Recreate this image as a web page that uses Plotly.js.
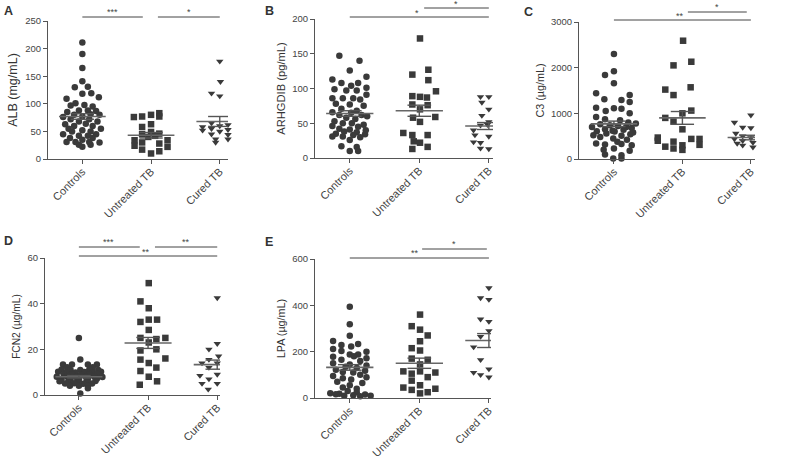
<!DOCTYPE html>
<html><head><meta charset="utf-8">
<script src="https://cdn.plot.ly/plotly-3.0.1.min.js"></script>
<style>html,body{margin:0;padding:0;background:#fff}#chart{width:787px;height:459px}</style>
</head><body><div id="chart"></div>
<script>
const categories = ["Controls", "Untreated TB", "Cured TB"];

// ---- Panel A: ALB (mg/mL) ----
const alb_ctrl    = [211,190,165,141,130,131,118,119,112,109,101,97,98,95,88,88,87,85,80,81,80,76,77,72,72,68,68,63,64,60,60,55,55,52,50,50,45,45,42,42,38,38,35,31,31,31,30,26,26,22];
const alb_ctrl_dx = [0,0,0,0,-0.11,0.08,0,0.13,0.24,-0.23,-0.1,-0.17,0.03,0.15,-0.05,0.08,0.2,-0.22,-0.12,0.12,0.25,-0.28,0,-0.17,0.1,-0.05,0.22,-0.25,0.05,-0.12,0.15,0.27,-0.2,0,-0.15,0.12,-0.28,0.2,-0.05,0.08,-0.18,0.15,0,-0.23,-0.1,0.1,0.25,-0.05,0.12,0];
const alb_untr    = [83,77,80,77,76,63,58,49,46,45,42,40,34,34,30,28,22,24,17,14,10];
const alb_untr_dx = [0.12,0.12,0,-0.13,-0.25,0,-0.13,0,0.12,-0.13,0.06,-0.04,-0.24,0.24,-0.13,0.12,0.24,-0.24,-0.13,0.12,0];
const alb_cure    = [177,140,119,114,65,62,60,58,57,55,53,52,50,47,45,44,43,36,36,30];
const alb_cure_dx = [0,0.01,-0.12,0,-0.12,0.12,0,-0.25,0.25,-0.12,0.12,-0.25,0,0.25,-0.12,0.12,0.25,-0.06,0.12,-0.06];
const alb_mean = [77, 43, 68];
const alb_sem  = [5, 5, 9];

// ---- Panel B: ARHGDIB (pg/mL) ----
const arh_ctrl    = [147,140,126,117,113,108,108,104,101,99,97,97,91,86,86,86,84,78,77,75,71,68,66,65,62,62,60,58,56,53,50,50,48,46,45,42,41,40,38,37,35,34,33,31,31,30,26,17,16,10,10];
const arh_ctrl_dx = [-0.15,0.14,0,0.24,-0.25,-0.12,0.12,0.02,0.24,-0.22,-0.05,0.1,0.24,-0.25,-0.1,0.05,0.15,-0.2,0,0.2,-0.12,0.1,-0.25,0.02,-0.15,0.17,0.25,-0.05,0.08,-0.22,-0.1,0.03,0.2,-0.25,0.12,-0.15,0,0.23,-0.08,0.1,-0.2,0.22,0.05,-0.25,-0.1,0.15,0,-0.12,0.1,0,0.12];
const arh_untr    = [172,127,120,112,96,89,88,87,77,76,70,59,58,52,36,33,33,24,22,13,16];
const arh_untr_dx = [0.01,0.13,-0.1,0.13,0.24,-0.1,0.01,0.11,-0.1,0.12,0.01,0.23,-0.09,0.01,-0.23,-0.1,0.12,-0.08,0.01,-0.1,0.12];
const arh_cure    = [88,88,89,80,79,70,61,56,52,48,47,45,40,38,33,31,30,23,22,22,21,14,13,13];
const arh_cure_dx = [-0.12,0,0.12,-0.1,0.1,0,-0.1,0.22,0,-0.02,-0.12,0.1,-0.22,0.22,-0.2,0,0.12,-0.22,-0.12,0.22,0.1,-0.12,0,0.12];
const arh_mean = [64, 68, 46];
const arh_sem  = [4, 8, 5];

// ---- Panel C: C3 (µg/mL) ----
const c3_ctrl    = [2300,1920,1840,1660,1440,1400,1310,1290,1250,1120,1110,1100,1050,1000,920,870,850,800,780,760,740,720,700,700,680,650,640,620,610,600,580,560,540,520,510,480,450,420,380,340,330,320,300,230,200,180,100,80,10,10];
const c3_ctrl_dx = [0,0,-0.13,0,-0.26,0.23,-0.14,0.11,0.23,-0.26,0,0.11,-0.12,0.23,-0.26,-0.13,0.09,0.21,0.32,-0.2,-0.06,0.06,-0.32,0.18,0.26,-0.13,0.14,-0.02,-0.25,0.01,0.28,-0.11,0.24,-0.3,0.11,-0.2,-0.01,0.19,0.05,-0.26,0.11,-0.13,0.26,0,-0.15,0.23,-0.13,0.11,-0.01,0.11];
const c3_untr    = [2590,2130,2050,1570,1520,1400,1060,1000,900,820,650,470,440,400,380,440,300,270,310,230,200];
const c3_untr_dx = [0.01,0.13,-0.13,0.12,-0.25,-0.13,0.13,0,-0.25,-0.13,0,-0.36,0.13,-0.36,-0.13,0.25,0,-0.25,0.25,-0.13,0];
const c3_cure    = [960,800,750,720,690,680,560,520,500,480,460,440,420,400,380,360,340,330,300,290,260,240];
const c3_cure_dx = [0,-0.24,0.22,0.1,-0.12,0,-0.22,0.12,-0.12,0.22,0,-0.24,0.1,-0.12,0.26,0.03,-0.2,0.15,-0.12,0.24,0.03,0.13];
const c3_mean = [770, 900, 470];
const c3_sem  = [60, 140, 50];

// ---- Panel D: FCN2 (µg/mL) ----
const fcn_ctrl    = [25,15.5,13.4,13.4,13.4,13.4,12.2,12.2,11.2,11,10.9,11.1,11,10.2,10,9.9,10.1,10,10.2,9,9.1,8.9,9,9.2,8,8.1,7.9,8,8.1,7.9,7,7.1,6.9,7,7.1,6,6.1,5.9,6,6.1,5,5.1,4.9,5,4,4.1,4,3,0.7];
const fcn_ctrl_dx = [0,0.02,-0.23,-0.1,0.13,0.26,-0.17,0.2,-0.25,-0.12,0.02,0.15,0.28,-0.3,-0.18,-0.05,0.08,0.2,0.32,-0.22,-0.1,0.03,0.15,0.27,-0.32,-0.17,-0.04,0.1,0.22,0.34,-0.25,-0.12,0,0.13,0.26,-0.28,-0.15,-0.02,0.11,0.24,-0.2,-0.07,0.06,0.19,-0.13,0,0.13,0.13,0.02];
const fcn_untr    = [49,41,38,33,32,33,28.5,25,25,24.5,23,20,19.5,16,15.5,14,12,10.5,8,6,4.5];
const fcn_untr_dx = [0.01,-0.11,0.01,0.13,-0.11,0.01,0.01,-0.11,0.25,0.12,0.01,0.12,-0.11,0.25,-0.11,0.01,0.12,-0.11,0.01,0.13,-0.12];
const fcn_cure    = [42.5,25,22.5,20,17,16,15.5,14,14,13.5,12,11.5,9,8.5,7,6,5,5,2.5,2.5];
const fcn_cure_dx = [0,0.12,0,-0.12,0.02,0.12,-0.12,-0.22,0,0.18,-0.12,0.12,0,-0.25,-0.12,0.23,-0.22,0,-0.13,0.12];
const fcn_mean = [8, 22.8, 13.3];
const fcn_sem  = [0.5, 2.4, 2];

// ---- Panel E: LPA (µg/mL) ----
const lpa_ctrl    = [394,318,269,246,229,233,222,211,203,188,188,200,178,172,180,165,160,150,145,140,135,130,122,118,112,110,100,95,90,85,80,70,65,55,45,40,30,25,20,18,15,12,10,10,8,16];
const lpa_ctrl_dx = [0,0,0,-0.24,-0.12,0.12,0.02,-0.24,-0.12,0,0.12,0.24,-0.24,0.24,0.06,-0.12,0.15,-0.24,0,0.24,-0.06,0.1,-0.2,0.22,-0.1,0.05,0.15,-0.24,0.24,-0.1,0.02,-0.18,0.18,0,-0.1,0.1,-0.03,0.1,-0.28,-0.15,0.22,0.05,-0.08,0.3,0.15,-0.2];
const lpa_untr    = [360,310,295,270,245,215,205,170,165,145,115,115,110,105,90,75,55,45,35,40,20,25];
const lpa_untr_dx = [0.01,-0.11,0.01,0.12,0.01,-0.11,0.01,-0.11,0.12,0.01,-0.23,0.01,0.23,-0.11,0.12,-0.11,0.01,-0.23,-0.11,0.23,0.01,0.12];
const lpa_cure    = [505,475,433,432,425,340,330,330,290,265,240,220,200,165,165,125,110,110,100,95,90];
const lpa_cure_dx = [0.12,0,0.12,-0.12,0,-0.12,0,0.12,0,-0.12,0.12,-0.22,0.1,-0.12,0.12,0,-0.22,0.23,-0.12,0.12,0];
const lpa_mean = [132, 150, 248];
const lpa_sem  = [12, 22, 30];

// ---------- construction ----------
const W = 787, H = 459;
const FONT = "Liberation Sans, Arial, sans-serif";
const DOT = "#3a3a3a", AX = "#555555";
const symbols = ["circle", "square", "triangle-down"];
const msize = [6.5, 6.5, 6.5];

const panels = [
  {letter:"A", title:"ALB (mg/mL)", tsize:12.5, groups:[[alb_ctrl,alb_ctrl_dx],[alb_untr,alb_untr_dx],[alb_cure,alb_cure_dx]], mean:alb_mean, sem:alb_sem,
   px:[48,228], py:[21,159], xr:[-0.5,2.12], yr:[0,250], dt:50, lx:2, ly:11,
   sig:[[0,0.88,17,"***",0.44,12],[1.1,2,17,"*",1.55,12]]},
  {letter:"B", title:"ARHGDIB (pg/mL)", tsize:11.2, groups:[[arh_ctrl,arh_ctrl_dx],[arh_untr,arh_untr_dx],[arh_cure,arh_cure_dx]], mean:arh_mean, sem:arh_sem,
   px:[315,493], py:[19,158], xr:[-0.5,2.06], yr:[0,200], dt:50, lx:263, ly:11,
   sig:[[0,2,17,"*",0.97,13],[1.07,2,8,"*",1.53,4]]},
  {letter:"C", title:"C3 (\u00b5g/mL)", tsize:10.8, groups:[[c3_ctrl,c3_ctrl_dx],[c3_untr,c3_untr_dx],[c3_cure,c3_cure_dx]], mean:c3_mean, sem:c3_sem,
   px:[579,755], py:[22,159], xr:[-0.51,2.06], yr:[0,3000], dt:1000, lx:522, ly:12,
   sig:[[0,2,20,"**",0.97,16],[1.08,1.94,12,"*",1.5,7]]},
  {letter:"D", title:"FCN2 (\u00b5g/mL)", tsize:10.2, groups:[[fcn_ctrl,fcn_ctrl_dx],[fcn_untr,fcn_untr_dx],[fcn_cure,fcn_cure_dx]], mean:fcn_mean, sem:fcn_sem,
   px:[45,220], py:[258,395], xr:[-0.49,2.04], yr:[0,60], dt:20, lx:2, ly:241,
   sig:[[0,0.88,247,"***",0.43,242],[1.1,2,247,"**",1.55,242],[0,2,256,"**",0.97,252]]},
  {letter:"E", title:"LPA (\u00b5g/mL)", tsize:10.8, groups:[[lpa_ctrl,lpa_ctrl_dx],[lpa_untr,lpa_untr_dx],[lpa_cure,lpa_cure_dx]], mean:lpa_mean, sem:lpa_sem,
   px:[315,491], py:[259,398], xr:[-0.5,2.03], yr:[0,600], dt:200, lx:263, ly:242,
   sig:[[0,2,258,"**",0.94,253],[1.04,1.97,249,"*",1.5,244]]}
];

const traces = [];
const layout = {
  width: W, height: H, margin:{l:0,r:0,t:0,b:0}, showlegend:false,
  paper_bgcolor:"#fff", plot_bgcolor:"rgba(0,0,0,0)",
  font:{family:FONT, color:"#444", size:10},
  shapes:[], annotations:[]
};

panels.forEach((p, i) => {
  const n = i + 1;
  const xa = n === 1 ? "x" : "x" + n, ya = n === 1 ? "y" : "y" + n;
  const xk = n === 1 ? "xaxis" : "xaxis" + n, yk = n === 1 ? "yaxis" : "yaxis" + n;
  const ticks = [];
  for (let v = p.yr[0]; v <= p.yr[1] + 1e-9; v += p.dt) ticks.push(v);
  layout[xk] = {
    domain:[p.px[0]/W, p.px[1]/W], anchor:ya, range:p.xr,
    tickmode:"array", tickvals:[0,1,2], ticktext:categories, tickangle:-45,
    showline:true, linecolor:AX, linewidth:1, ticks:"outside", ticklen:4, tickcolor:AX, tickwidth:1,
    ticklabelstandoff:-3,
    showgrid:false, zeroline:false, tickfont:{size:11, color:"#444", family:FONT}, fixedrange:true
  };
  layout[yk] = {
    domain:[1 - p.py[1]/H, 1 - p.py[0]/H], anchor:xa, range:p.yr,
    tickmode:"array", tickvals:ticks,
    showline:true, linecolor:AX, linewidth:1, ticks:"outside", ticklen:4, tickcolor:AX, tickwidth:1,
    showgrid:false, zeroline:false, tickfont:{size:9.5, color:"#444", family:FONT},
    title:{text:p.title, font:{size:p.tsize, color:"#333", family:FONT}, standoff:4}, fixedrange:true
  };
  p.groups.forEach((g, gi) => {
    traces.push({
      type:"scatter", mode:"markers", xaxis:xa, yaxis:ya, cliponaxis:false,
      x: g[1].map(d => gi + d), y: g[0],
      marker:{symbol:symbols[gi], size:msize[gi], color:DOT, line:{width:0}},
      hoverinfo:"skip"
    });
    const m = p.mean[gi], s = p.sem[gi];
    traces.push({
      type:"scatter", mode:"lines", xaxis:xa, yaxis:ya, cliponaxis:false,
      x:[gi-0.34, gi+0.34], y:[m, m], line:{color:"#666", width:1.6}, hoverinfo:"skip"
    });
    traces.push({
      type:"scatter", mode:"lines", xaxis:xa, yaxis:ya, cliponaxis:false,
      x:[gi-0.17, gi+0.17, null, gi, gi, null, gi-0.17, gi+0.17],
      y:[m+s, m+s, null, m+s, m-s, null, m-s, m-s], line:{color:"#555", width:1.4}, hoverinfo:"skip"
    });
  });
  p.sig.forEach(s => {
    layout.shapes.push({type:"line", xref:xa, yref:"paper", x0:s[0], x1:s[1],
      y0:1 - s[2]/H, y1:1 - s[2]/H, line:{color:"#444", width:1}});
    layout.annotations.push({xref:xa, yref:"paper", x:s[4], y:1 - s[5]/H, text:s[3],
      showarrow:false, xanchor:"center", yanchor:"middle", font:{size:9, color:"#444", family:FONT}});
  });
  layout.annotations.push({xref:"paper", yref:"paper", x:p.lx/W, y:1 - p.ly/H, text:"<b>"+p.letter+"</b>",
    showarrow:false, xanchor:"left", yanchor:"middle", font:{size:12.5, color:"#333", family:FONT}});
});

Plotly.newPlot("chart", traces, layout, {staticPlot:true, displayModeBar:false});
</script>
</body></html>
